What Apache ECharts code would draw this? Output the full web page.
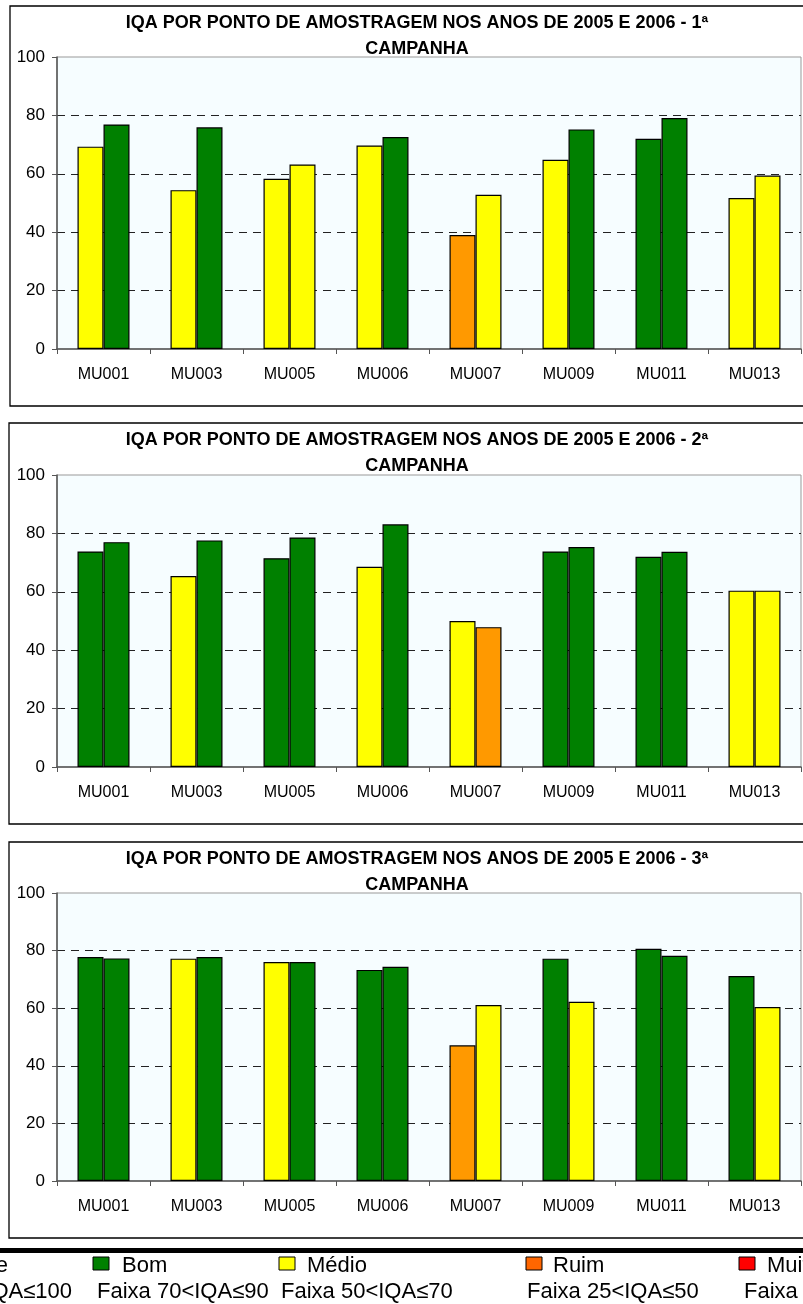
<!DOCTYPE html>
<html>
<head>
<meta charset="utf-8">
<script src="https://cdn.jsdelivr.net/npm/echarts@6/dist/echarts.min.js"></script>
<style>
html,body{margin:0;padding:0;background:#fff;}
#c{width:803px;height:1304px;}
</style>
</head>
<body>
<div id="c"></div>
<script>
const categories = ['MU001','MU003','MU005','MU006','MU007','MU009','MU011','MU013'];
const yTicks = [0, 20, 40, 60, 80, 100];
const titles = [
  'IQA POR PONTO DE AMOSTRAGEM NOS ANOS DE 2005 E 2006 - 1ª\nCAMPANHA',
  'IQA POR PONTO DE AMOSTRAGEM NOS ANOS DE 2005 E 2006 - 2ª\nCAMPANHA',
  'IQA POR PONTO DE AMOSTRAGEM NOS ANOS DE 2005 E 2006 - 3ª\nCAMPANHA'
];
// values (left bar = 2005, right bar = 2006)
const c1_2005 = [69.3, 54.4, 58.3, 69.7, 39.0, 64.8, 72.0, 51.7];
const c1_2006 = [76.9, 75.9, 63.2, 72.6, 52.8, 75.2, 79.1, 59.4];
const c2_2005 = [73.8, 65.4, 71.5, 68.6, 50.0, 73.8, 72.0, 60.4];
const c2_2006 = [77.0, 77.6, 78.6, 83.1, 47.9, 75.3, 73.7, 60.4];
const c3_2005 = [77.8, 77.2, 76.0, 73.3, 47.1, 77.2, 80.6, 71.2];
const c3_2006 = [77.3, 77.8, 76.0, 74.4, 61.1, 62.2, 78.2, 60.4];
// quality class of each bar: B = Bom, M = Médio, R = Ruim
const c1_2005_cls = ['M','M','M','M','R','M','B','M'];
const c1_2006_cls = ['B','B','M','B','M','B','B','M'];
const c2_2005_cls = ['B','M','B','M','M','B','B','M'];
const c2_2006_cls = ['B','B','B','B','R','B','B','M'];
const c3_2005_cls = ['B','M','M','B','R','B','B','B'];
const c3_2006_cls = ['B','B','B','B','M','M','B','M'];
// legend
const legendNames = ['Excelente','Bom','Médio','Ruim','Muito Ruim'];
const legendRanges = ['Faixa 90<IQA≤100','Faixa 70<IQA≤90','Faixa 50<IQA≤70','Faixa 25<IQA≤50','Faixa 0≤IQA≤25'];

const barColor = {B:'#008000', M:'#FFFF00', R:'#FF9900'};
const legendColor = ['#0000FF','#008000','#FFFF00','#FF6600','#FF0000'];
const FONT = 'Liberation Sans, Arial, sans-serif';

const panels = [
  {a:c1_2005, b:c1_2006, ac:c1_2005_cls, bc:c1_2006_cls, box:{x:10,y:6,h:400}, top:57, h:292},
  {a:c2_2005, b:c2_2006, ac:c2_2005_cls, bc:c2_2006_cls, box:{x:9,y:423,h:401}, top:475, h:292},
  {a:c3_2005, b:c3_2006, ac:c3_2005_cls, bc:c3_2006_cls, box:{x:9,y:842,h:396}, top:893, h:288}
];

const grid=[], xAxis=[], yAxis=[], series=[], title=[], graphic=[];
panels.forEach((p,i)=>{
  graphic.push({type:'rect', shape:{x:p.box.x, y:p.box.y, width:900, height:p.box.h},
    style:{fill:'none', stroke:'#000', lineWidth:1.3}, silent:true});
  title.push({text:titles[i], left:417, top:p.box.y+4, textAlign:'center', padding:0,
    textStyle:{fontFamily:FONT, fontWeight:'bold', fontSize:18, lineHeight:26, color:'#000'}});
  grid.push({left:57, top:p.top, width:744, height:p.h, show:true,
    backgroundColor:'#F6FDFF', borderColor:'#999', borderWidth:1, containLabel:false});
  xAxis.push({type:'category', gridIndex:i, data:categories,
    axisLine:{lineStyle:{color:'#555', width:1.5}},
    axisTick:{show:true, length:5, lineStyle:{color:'#555'}},
    axisLabel:{fontFamily:FONT, fontSize:16, color:'#000', margin:18}});
  yAxis.push({type:'value', gridIndex:i, min:yTicks[0], max:yTicks[yTicks.length-1], interval:20,
    axisLine:{show:true, lineStyle:{color:'#555', width:1.5}},
    axisTick:{show:true, length:5, lineStyle:{color:'#555'}},
    axisLabel:{fontFamily:FONT, fontSize:17, color:'#000', margin:12},
    splitLine:{show:true, showMinLine:false, showMaxLine:false,
      lineStyle:{color:'#222', type:[8,6], width:1}}});
  const mk = (vals, cls) => vals.map((v,k)=>({value:v, itemStyle:{color:barColor[cls[k]]}}));
  series.push({type:'bar', name:'2005', xAxisIndex:i, yAxisIndex:i, data:mk(p.a,p.ac),
    barWidth:26, barGap:'0%', itemStyle:{borderColor:'#000', borderWidth:1.2}, silent:true});
  series.push({type:'bar', name:'2006', xAxisIndex:i, yAxisIndex:i, data:mk(p.b,p.bc),
    barWidth:26, barGap:'0%', itemStyle:{borderColor:'#000', borderWidth:1.2}, silent:true});
});

// legend strip
graphic.push({type:'rect', shape:{x:0, y:1248, width:803, height:5}, style:{fill:'#000'}, silent:true});
const sqX = [-120, 93, 279, 526, 739];
const txX = [8, 122, 307, 553, 767];
const rgX = [72, 97, 281, 527, 744];
legendNames.forEach((n,i)=>{
  graphic.push({type:'rect', shape:{x:sqX[i], y:1257, width:16, height:13},
    style:{fill:legendColor[i], stroke:'#000', lineWidth:1}, silent:true});
  graphic.push({type:'text', x:txX[i], y:1266,
    style:{text:n, fontFamily:FONT, fontSize:22, fill:'#000',
      align: i===0 ? 'right':'left', verticalAlign:'middle'}, silent:true});
  graphic.push({type:'text', x:rgX[i], y:1292,
    style:{text:legendRanges[i], fontFamily:FONT, fontSize:22, fill:'#000',
      align: i===0 ? 'right':'left', verticalAlign:'middle'}, silent:true});
});

const chart = echarts.init(document.getElementById('c'), null, {renderer:'canvas'});
chart.setOption({
  backgroundColor:'#fff', animation:false,
  title, grid, xAxis, yAxis, series, graphic
});
</script>
</body>
</html>
